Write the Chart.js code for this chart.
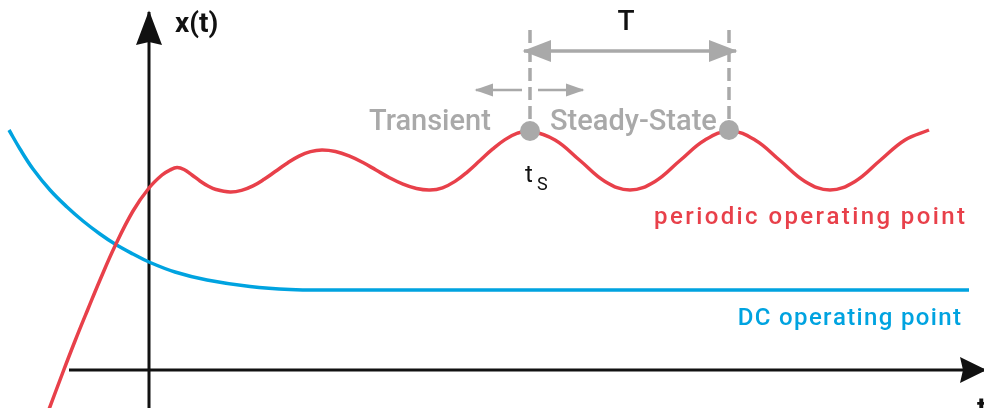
<!DOCTYPE html>
<html>
<head>
<meta charset="utf-8">
<script src="https://cdn.jsdelivr.net/npm/chart.js@4.4.1/dist/chart.umd.min.js"></script>
<style>
  html, body { margin: 0; padding: 0; background: #fff; }
  #wrap { width: 984px; height: 408px; }
</style>
</head>
<body>
<div id="wrap"><canvas id="chart" width="984" height="408"></canvas></div>
<script>
// Periodischer Arbeitspunkt (rot): Einschwingen, dann stationaer mit Periode T
const redT = [-1.01, -0.86, -0.74, -0.61, -0.49, -0.34, -0.16, 0.00, 0.13, 0.21, 0.28, 0.35, 0.43, 0.51, 0.59, 0.67, 0.81,
              0.925, 1.04, 1.155, 1.27, 1.385, 1.50, 1.615, 1.73, 1.865, 2.00, 2.135, 2.27, 2.405, 2.54, 2.675, 2.81,
              2.935, 3.06, 3.185, 3.31, 3.435, 3.56, 3.685, 3.81,
              4.06, 4.31, 4.56, 4.81, 5.06, 5.31, 5.56, 5.81, 6.06, 6.31, 6.56, 6.81, 7.06, 7.31, 7.56, 7.80];
const redX = [-0.42, -0.02, 0.29, 0.61, 0.90, 1.24, 1.59, 1.82, 1.95, 2.00, 2.025, 2.005, 1.95, 1.89, 1.84, 1.805, 1.78,
              1.796, 1.841, 1.91, 1.99, 2.07, 2.139, 2.184, 2.20, 2.185, 2.141, 2.077, 2.00, 1.923, 1.859, 1.815, 1.80,
              1.822, 1.886, 1.982, 2.095, 2.208, 2.304, 2.368, 2.39,
              2.30, 2.095, 1.886, 1.80, 1.886, 2.095, 2.30, 2.39, 2.30, 2.095, 1.886, 1.80, 1.886, 2.095, 2.30, 2.40];

// DC-Arbeitspunkt (blau): abklingend auf konstanten Wert
const blueT = [-1.40, -1.29, -1.16, -0.99, -0.82, -0.66, -0.49, -0.34, -0.16, 0.00, 0.26, 0.58, 1.01, 1.41, 1.81, 3.00, 5.00, 8.20];
const blueX = [2.40, 2.21, 2.01, 1.80, 1.63, 1.49, 1.36, 1.26, 1.16, 1.08, 0.98, 0.90, 0.835, 0.805, 0.80, 0.80, 0.80, 0.80];

// Zeitpunkt t_s und eine Periode spaeter
const markT = [3.81, 5.80];
const markX = [2.39, 2.40];
const dashTop = 3.40;

// Pfeil fuer die Periode T und die kleinen Pfeile Transient / Steady-State
const periodT = [3.75, 5.87];
const periodX = 3.19;
const transT = [3.73, 3.27];
const steadyT = [3.89, 4.34];
const smallArrowX = 2.80;

// Achsen
const axisT = [-0.80, 8.36];
const axisX = [-0.38, 3.58];

const RED = '#e8404a';
const BLUE = '#00a3e0';
const GRAY = '#a9a9a9';
const INK = '#111111';

const pts = (ts, xs) => ts.map((t, i) => ({ x: t, y: xs[i] }));

// Helper para criar um dataset de linha simples
function lineSet(data, color, width, extra) {
    return Object.assign({
        data: data,
        showLine: true,
        borderColor: color,
        backgroundColor: color,
        borderWidth: width,
        pointRadius: 0,
        fill: false,
        clip: false
    }, extra || {});
}

// Desenha as pontas de seta no fim dos datasets marcados com "arrow"
const arrowPlugin = {
    id: 'arrowHeads',
    afterDatasetsDraw(chart) {
        const ctx = chart.ctx;
        chart.data.datasets.forEach((ds, i) => {
            if (!ds.arrow) return;
            const el = chart.getDatasetMeta(i).data;
            const heads = [];
            if (ds.arrow.end) heads.push([el[el.length - 1], el[el.length - 2]]);
            if (ds.arrow.start) heads.push([el[0], el[1]]);
            heads.forEach(([tip, from]) => {
                const dx = tip.x - from.x, dy = tip.y - from.y;
                const d = Math.hypot(dx, dy);
                const ux = dx / d, uy = dy / d;
                const bx = tip.x - ux * ds.arrow.len, by = tip.y - uy * ds.arrow.len;
                const h = ds.arrow.half;
                const n = ds.arrow.notch || 0;
                ctx.save();
                ctx.fillStyle = ds.borderColor;
                ctx.beginPath();
                ctx.moveTo(tip.x + ux * 1.5, tip.y + uy * 1.5);
                ctx.lineTo(bx - uy * h, by + ux * h);
                ctx.lineTo(bx + ux * n, by + uy * n);
                ctx.lineTo(bx + uy * h, by - ux * h);
                ctx.closePath();
                ctx.fill();
                ctx.restore();
            });
        });
    }
};

// Textos (posicoes em coordenadas dos dados); spacing = espacamento entre letras
const labels = [
    { text: 'x(t)', t: 0.26, x: 3.38, color: INK, font: 'bold 28px Roboto', align: 'left', spacing: 0 },
    { text: 't', t: 8.28, x: -0.47, color: INK, font: 'bold 28px Roboto', align: 'left', spacing: 0 },
    { text: 'T', t: 4.77, x: 3.40, color: INK, font: '500 28px Roboto', align: 'center', spacing: 0 },
    { text: 'Transient', t: 2.20, x: 2.40, color: GRAY, font: '500 29px Roboto', align: 'left', spacing: 0 },
    { text: 'Steady-State', t: 4.01, x: 2.40, color: GRAY, font: '500 29px Roboto', align: 'left', spacing: 0 },
    { text: 't', t: 3.76, x: 1.88, color: INK, font: '400 24px Roboto', align: 'left', spacing: 0 },
    { text: 'S', t: 3.88, x: 1.80, color: INK, font: '400 18px Roboto', align: 'left', spacing: 0 },
    { text: 'periodic operating point', t: 8.16, x: 1.46, color: RED, font: '500 24px Roboto', align: 'right', spacing: 2.4 },
    { text: 'DC operating point', t: 8.12, x: 0.45, color: BLUE, font: '500 24px Roboto', align: 'right', spacing: 1.35 }
];

function drawSpaced(ctx, text, x, y, align, spacing) {
    const chars = Array.from(text);
    const widths = chars.map(c => ctx.measureText(c).width);
    const total = widths.reduce((a, b) => a + b, 0) + spacing * (chars.length - 1);
    let cx = align === 'right' ? x - total : align === 'center' ? x - total / 2 : x;
    ctx.textAlign = 'left';
    chars.forEach((c, i) => {
        ctx.fillText(c, cx, y);
        cx += widths[i] + spacing;
    });
}

const textPlugin = {
    id: 'textLabels',
    afterDatasetsDraw(chart) {
        const ctx = chart.ctx;
        const sx = chart.scales.x, sy = chart.scales.y;
        ctx.save();
        ctx.textBaseline = 'alphabetic';
        labels.forEach(l => {
            ctx.font = l.font;
            ctx.fillStyle = l.color;
            const px = sx.getPixelForValue(l.t), py = sy.getPixelForValue(l.x);
            if (l.spacing) {
                drawSpaced(ctx, l.text, px, py, l.align, l.spacing);
            } else {
                ctx.textAlign = l.align;
                ctx.fillText(l.text, px, py);
            }
        });
        ctx.restore();
    }
};

const datasets = [
    // marcadores por cima de tudo
    lineSet(pts(markT, markX), GRAY, 0, { showLine: false, pointRadius: 10, pointBackgroundColor: GRAY, pointBorderWidth: 0, order: 0 }),
    lineSet(pts(redT, redX), RED, 3.5, { tension: 0.4, order: 1 }),
    lineSet(pts(blueT, blueX), BLUE, 3.5, { tension: 0.4, order: 2 }),
    lineSet(pts([markT[0], markT[0]], [dashTop, markX[0]]), GRAY, 3.5, { borderDash: [13, 6], order: 3 }),
    lineSet(pts([markT[1], markT[1]], [dashTop, markX[1]]), GRAY, 3.5, { borderDash: [13, 6], order: 3 }),
    lineSet(pts(periodT, [periodX, periodX]), GRAY, 3.5, { arrow: { start: true, end: true, len: 27, half: 11 }, order: 3 }),
    lineSet(pts(transT, [smallArrowX, smallArrowX]), GRAY, 2.5, { arrow: { end: true, len: 17, half: 6.5 }, order: 3 }),
    lineSet(pts(steadyT, [smallArrowX, smallArrowX]), GRAY, 2.5, { arrow: { end: true, len: 17, half: 6.5 }, order: 3 }),
    lineSet(pts(axisT, [0, 0]), INK, 3, { arrow: { end: true, len: 25, half: 13, notch: 3 }, order: 4 }),
    lineSet(pts([0, 0], axisX), INK, 3, { arrow: { end: true, len: 33, half: 13, notch: 3 }, order: 4 })
];

new Chart(document.getElementById('chart'), {
    type: 'scatter',
    data: { datasets: datasets },
    options: {
        responsive: false,
        animation: false,
        events: [],
        layout: { padding: 0, autoPadding: false },
        plugins: { legend: { display: false }, tooltip: { enabled: false } },
        scales: {
            x: { type: 'linear', display: false, min: -1.49, max: 8.35 },
            y: { type: 'linear', display: false, min: -0.38, max: 3.70 }
        }
    },
    plugins: [arrowPlugin, textPlugin]
});
</script>
</body>
</html>
